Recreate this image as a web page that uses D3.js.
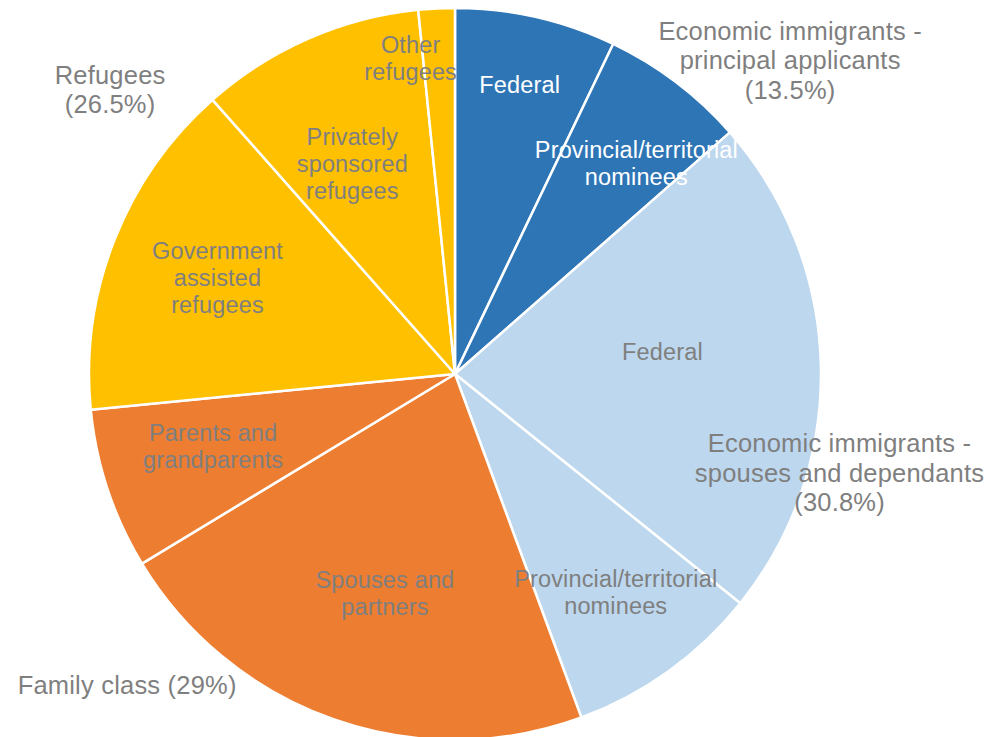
<!DOCTYPE html>
<html>
<head>
<meta charset="utf-8">
<script src="https://cdn.jsdelivr.net/npm/d3@7/dist/d3.min.js"></script>
<style>
  html, body { margin: 0; padding: 0; background: #fff; }
  svg { display: block; }
  text { font-family: "Liberation Sans", Arial, sans-serif; }
</style>
</head>
<body>
<script>
// ---- Data ----
const sliceLabels = [
  "Federal",
  "Provincial/territorial\nnominees",
  "Federal",
  "Provincial/territorial\nnominees",
  "Spouses and\npartners",
  "Parents and\ngrandparents",
  "Government\nassisted\nrefugees",
  "Privately\nsponsored\nrefugees",
  "Other\nrefugees"
];
const sliceGroups = ["principal", "principal", "spouses", "spouses", "family", "family", "refugees", "refugees", "refugees"];
const sliceValues = [7.1, 6.4, 22.2, 8.6, 21.9, 7.1, 15.0, 9.9, 1.6];

const groupNames = ["principal", "spouses", "family", "refugees"];
const groupLabels = [
  "Economic immigrants -\nprincipal applicants\n(13.5%)",
  "Economic immigrants -\nspouses and dependants\n(30.8%)",
  "Family class (29%)",
  "Refugees\n(26.5%)"
];

// ---- Style / layout (not data) ----
const groupColors = { principal: "#2E75B6", spouses: "#BDD7EE", family: "#ED7D31", refugees: "#FFC000" };
const groupTextColors = { principal: "#FFFFFF", spouses: "#7F7F7F", family: "#7F7F7F", refugees: "#7F7F7F" };
// inner label placement: [radius fraction, angle in degrees]
const innerPlacement = [
  [0.81, 12.6], [0.76, 40.7], [0.57, 84], [0.74, 143.6], [0.63, 197.7],
  [0.69, 253.3], [0.70, 292], [0.64, 334], [0.87, 352]
];
// outer label placement: [distance px, angle deg]
const outerPlacement = [[459, 46.9], [397, 104.4], [452, 226.5], [447, 309.5]];

const W = 998, H = 737;
const cx = 455, cy = 374, R = 366;

const svg = d3.select("body").append("svg").attr("width", W).attr("height", H);
const g = svg.append("g").attr("transform", `translate(${cx},${cy})`);

const pie = d3.pie().sort(null).value(d => d.v);
const data = sliceValues.map((v, i) => ({ v, label: sliceLabels[i], group: sliceGroups[i] }));
const arcs = pie(data);
const arc = d3.arc().innerRadius(0).outerRadius(R);

g.selectAll("path.slice").data(arcs).join("path")
  .attr("class", "slice")
  .attr("d", arc)
  .attr("fill", d => groupColors[d.data.group])
  .attr("stroke", "#fff")
  .attr("stroke-width", 2.5)
  .attr("stroke-linejoin", "round");

function polar(r, deg) {
  const a = deg * Math.PI / 180;
  return [r * Math.sin(a), -r * Math.cos(a)];
}

function multiline(sel, text, lh) {
  const lines = text.split("\n");
  const off = -(lines.length - 1) / 2 * lh;
  lines.forEach((ln, i) => {
    sel.append("tspan").attr("x", 0).attr("y", off + i * lh).attr("dy", "0.35em").text(ln);
  });
}

// inner labels
arcs.forEach((d, i) => {
  const [x, y] = polar(R * innerPlacement[i][0], innerPlacement[i][1]);
  const t = g.append("g").attr("transform", `translate(${x},${y})`)
    .append("text")
    .attr("text-anchor", "middle")
    .attr("font-size", 23.5)
    .attr("letter-spacing", 0.15)
    .attr("fill", groupTextColors[d.data.group]);
  multiline(t, d.data.label, 27);
});

// outer labels
groupNames.forEach((gn, i) => {
  const [x, y] = polar(outerPlacement[i][0], outerPlacement[i][1]);
  const t = g.append("g").attr("transform", `translate(${x},${y})`)
    .append("text")
    .attr("text-anchor", "middle")
    .attr("font-size", 25.5)
    .attr("letter-spacing", 0.2)
    .attr("fill", "#7F7F7F");
  multiline(t, groupLabels[i], 29.5);
});
</script>
</body>
</html>
